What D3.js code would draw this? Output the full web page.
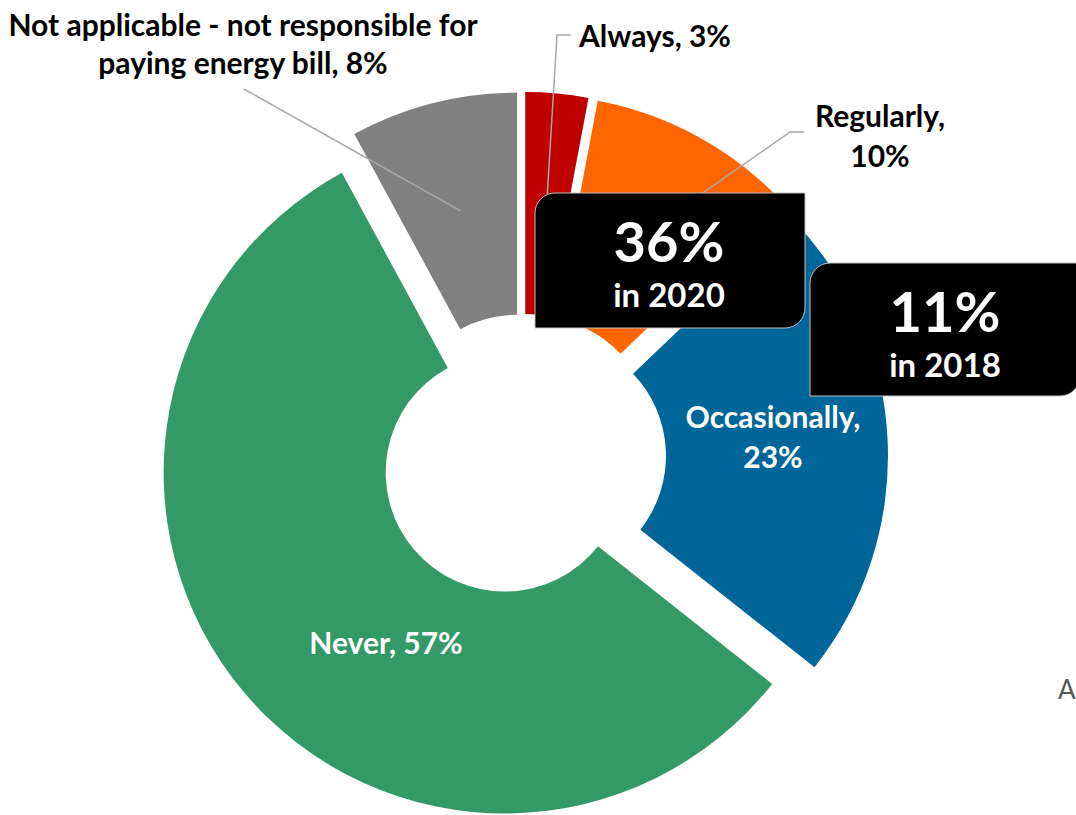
<!DOCTYPE html>
<html>
<head>
<meta charset="utf-8">
<script src="https://cdn.jsdelivr.net/npm/d3@7/dist/d3.min.js"></script>
<style>
  html, body { margin: 0; padding: 0; background: #ffffff; }
  svg { display: block; }
  text { font-family: Lato, "Open Sans", sans-serif; }
</style>
</head>
<body>
<svg id="chart" width="1076" height="815"></svg>
<script>
// Share of respondents by how often they worry about paying the energy bill
const categories = ["Always", "Regularly", "Occasionally", "Never",
                    "Not applicable - not responsible for paying energy bill"];
const shares = [3, 10, 23, 57, 8];
const sliceColors = ["#C00000", "#FF6600", "#006699", "#339966", "#808080"];

// Comparison callouts
const calloutValues = ["36%", "11%"];
const calloutYears = ["in 2020", "in 2018"];

// ---- layout ----
const width = 1076, height = 815;
const cx = 523, cy = 457;
const outerR = 341, innerR = 119;
const explode = 24;

const svg = d3.select("#chart");
const g = svg.append("g").attr("transform", `translate(${cx},${cy})`);

const pie = d3.pie().sort(null).value(d => d)(shares);
const arc = d3.arc().innerRadius(innerR).outerRadius(outerR);

const mid = d => (d.startAngle + d.endAngle) / 2;
const shift = d => [explode * Math.sin(mid(d)), -explode * Math.cos(mid(d))];

// slices, each pulled out along its bisector
g.selectAll("path.slice")
  .data(pie)
  .join("path")
  .attr("class", "slice")
  .attr("d", arc)
  .attr("fill", (d, i) => sliceColors[i])
  .attr("transform", d => `translate(${shift(d)[0]},${shift(d)[1]})`);

// anchor of each slice: ring centroid plus explosion shift
const anchor = d => {
  const c = arc.centroid(d), s = shift(d);
  return [cx + c[0] + s[0], cy + c[1] + s[1]];
};

// label settings per slice (placement only)
const labelLayout = [
  { lines: [`${categories[0]}, ${shares[0]}%`], x: 579, y: 47, anchor: "start", color: "#000",
    leader: [[571, 35], [557, 35]] },
  { lines: [`${categories[1]},`, `${shares[1]}%`], x: 880, y: 127, anchor: "middle", color: "#000",
    leader: [[804, 132], [790, 132]] },
  { lines: [`${categories[2]},`, `${shares[2]}%`], x: 773, y: 428, anchor: "middle", color: "#fff",
    leader: null },
  { lines: [`${categories[3]}, ${shares[3]}%`], x: 386, y: 654, anchor: "middle", color: "#fff",
    leader: null },
  { lines: ["Not applicable - not responsible for", `paying energy bill, ${shares[4]}%`],
    x: 243, y: 36, anchor: "middle", color: "#000", lineGap: 38,
    leader: [[244, 89]] }
];

// leader lines
const line = d3.line();
pie.forEach((d, i) => {
  const L = labelLayout[i];
  if (!L.leader) return;
  svg.append("path")
    .attr("d", line([...L.leader, anchor(d)]))
    .attr("fill", "none")
    .attr("stroke", "#A6A6A6")
    .attr("stroke-width", 1.5);
});

// slice labels
pie.forEach((d, i) => {
  const L = labelLayout[i];
  const t = svg.append("text")
    .attr("x", L.x).attr("y", L.y)
    .attr("text-anchor", L.anchor)
    .attr("fill", L.color)
    .attr("font-size", 30)
    .attr("font-weight", 700);
  L.lines.forEach((s, k) => {
    t.append("tspan")
      .attr("x", L.x)
      .attr("y", L.y + k * (L.lineGap || 40))
      .text(s);
  });
});

// callout boxes: rounded top-left and bottom-right corners
function calloutPath(x0, y0, x1, y1, r) {
  return `M${x0},${y0 + r} A${r},${r} 0 0 1 ${x0 + r},${y0} L${x1},${y0} L${x1},${y1 - r}` +
         ` A${r},${r} 0 0 1 ${x1 - r},${y1} L${x0},${y1} Z`;
}
const calloutBoxes = [
  { x0: 535, y0: 193, x1: 805, y1: 328 },
  { x0: 810, y0: 263, x1: 1080, y1: 396 }
];
calloutBoxes.forEach((b, i) => {
  svg.append("path")
    .attr("d", calloutPath(b.x0, b.y0, b.x1, b.y1, 20))
    .attr("fill", "#000")
    .attr("stroke", "#BFBFBF")
    .attr("stroke-width", 1);
  const mx = i === 0 ? 669 : 945;
  svg.append("text")
    .attr("x", mx).attr("y", b.y0 + 69)
    .attr("text-anchor", "middle")
    .attr("fill", "#fff")
    .attr("font-size", 56)
    .attr("font-weight", 700)
    .text(calloutValues[i]);
  svg.append("text")
    .attr("x", mx).attr("y", b.y0 + 114)
    .attr("text-anchor", "middle")
    .attr("fill", "#fff")
    .attr("font-size", 33)
    .attr("font-weight", 700)
    .text(calloutYears[i]);
});

// note at the right edge
svg.append("text")
  .attr("x", 1058).attr("y", 699)
  .attr("fill", "#595959")
  .attr("font-size", 26)
  .text("A");
</script>
</body>
</html>
